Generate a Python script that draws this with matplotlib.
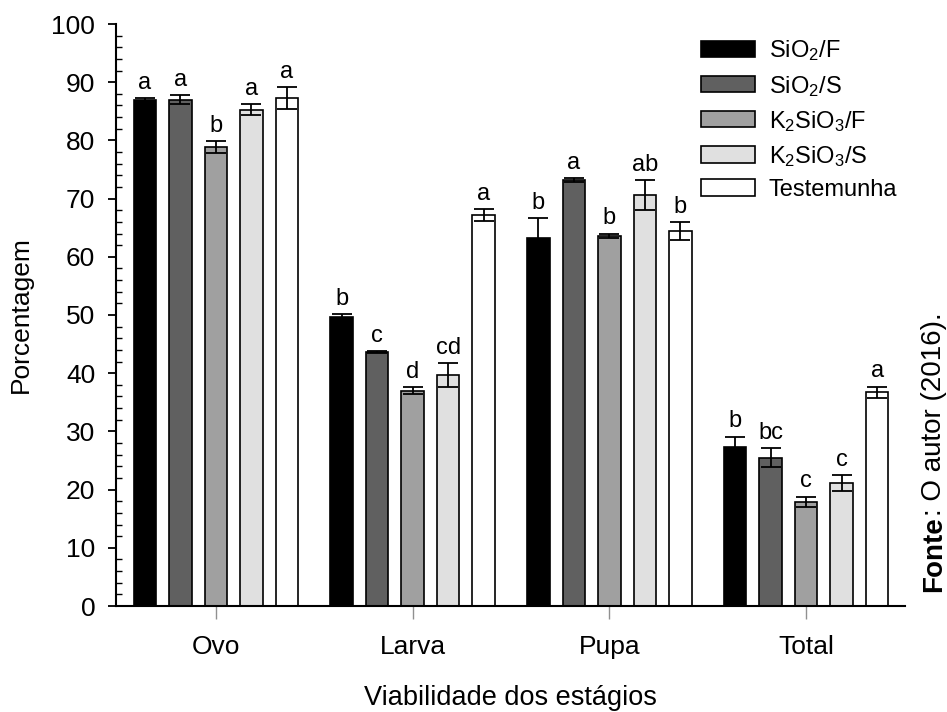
import matplotlib
matplotlib.use("Agg")
import matplotlib.pyplot as plt
import numpy as np
from matplotlib.patches import Patch
from matplotlib.ticker import MultipleLocator

plt.rcParams['font.family'] = ['Liberation Sans', 'DejaVu Sans']
plt.rcParams['mathtext.fontset'] = 'custom'
plt.rcParams['mathtext.rm'] = 'Liberation Sans'
plt.rcParams['mathtext.it'] = 'Liberation Sans:italic'
plt.rcParams['mathtext.bf'] = 'Liberation Sans:bold'

categories = ["Ovo", "Larva", "Pupa", "Total"]
series_names = [r"SiO$_2$/F", r"SiO$_2$/S", r"K$_2$SiO$_3$/F", r"K$_2$SiO$_3$/S", "Testemunha"]
series_colors = ["#000000", "#606060", "#a0a0a0", "#e0e0e0", "#ffffff"]

sio2_f = [87.0, 49.7, 63.3, 27.3]
sio2_s = [87.0, 43.6, 73.2, 25.5]
k2sio3_f = [78.9, 37.0, 63.6, 17.9]
k2sio3_s = [85.3, 39.7, 70.6, 21.1]
testemunha = [87.3, 67.2, 64.4, 36.7]

err_sio2_f = [0.3, 0.4, 3.3, 1.8]
err_sio2_s = [0.8, 0.2, 0.3, 1.6]
err_k2sio3_f = [1.0, 0.6, 0.4, 0.9]
err_k2sio3_s = [1.0, 2.0, 2.6, 1.4]
err_testemunha = [1.9, 1.0, 1.5, 1.0]

letters_sio2_f = ["a", "b", "b", "b"]
letters_sio2_s = ["a", "c", "a", "bc"]
letters_k2sio3_f = ["b", "d", "b", "c"]
letters_k2sio3_s = ["a", "cd", "ab", "c"]
letters_testemunha = ["a", "a", "b", "a"]

values = [sio2_f, sio2_s, k2sio3_f, k2sio3_s, testemunha]
errors = [err_sio2_f, err_sio2_s, err_k2sio3_f, err_k2sio3_s, err_testemunha]
letters = [letters_sio2_f, letters_sio2_s, letters_k2sio3_f, letters_k2sio3_s, letters_testemunha]

fig = plt.figure(figsize=(9.47, 7.12), dpi=100)
ax = fig.add_axes([116/947, 1-606/712, (905-116)/947, (606-24)/712])

x = np.arange(len(categories))
step = 0.1805
width = 0.114
handles = []
for j, (vals, errs, lets, col, name) in enumerate(zip(values, errors, letters, series_colors, series_names)):
    pos = x + (j - 2) * step
    ax.bar(pos, vals, width=width, color=col, edgecolor="black", linewidth=1.2, zorder=2)
    ax.errorbar(pos, vals, yerr=errs, fmt="none", ecolor="black", elinewidth=1.3,
                capsize=7.0, capthick=1.3, zorder=3)
    for p, v, e, l in zip(pos, vals, errs, lets):
        ax.annotate(l, xy=(p, v + e), xytext=(0, 3), textcoords="offset points",
                    ha="center", va="bottom", fontsize=17)
    handles.append(Patch(facecolor=col, edgecolor="black", linewidth=1.2, label=name))

ax.set_xlim(-0.508, 3.503)
ax.set_ylim(0, 100)
ax.set_xticks(x)
ax.set_xticklabels(categories, fontsize=19)
ax.tick_params(axis="x", direction="out", length=9, width=1, color="#909090", pad=12)
ax.yaxis.set_major_locator(MultipleLocator(10))
ax.yaxis.set_minor_locator(MultipleLocator(2))
ax.tick_params(axis="y", which="major", direction="out", length=6, width=1.3, labelsize=19, pad=9)
ax.tick_params(axis="y", which="minor", direction="in", length=4, width=1.0)
for s in ["top", "right"]:
    ax.spines[s].set_visible(False)
for s in ["left", "bottom"]:
    ax.spines[s].set_linewidth(1.5)

ax.set_ylabel("Porcentagem", fontsize=19)
ax.yaxis.set_label_coords(-0.105, 0.5)
ax.set_xlabel("Viabilidade dos estágios", fontsize=19.5)
ax.xaxis.label.set_verticalalignment("baseline")
ax.xaxis.set_label_coords(0.5, (606-705)/582)

ax.legend(handles=handles, loc="upper left", bbox_to_anchor=(0.742, 0.975),
          frameon=False, fontsize=17, handlelength=2.25, handleheight=0.68,
          handletextpad=0.6, labelspacing=0.43, borderpad=0, borderaxespad=0)

t1 = fig.text(0.986, 1-592/712, "Fonte", rotation=90, fontsize=20, fontweight="bold",
              ha="center", va="bottom")
ax.annotate(": O autor (2016).", xy=(0.5, 1.0), xycoords=t1, rotation=90, fontsize=20,
            ha="center", va="bottom", annotation_clip=False)

fig.savefig("out.png", dpi=100)
